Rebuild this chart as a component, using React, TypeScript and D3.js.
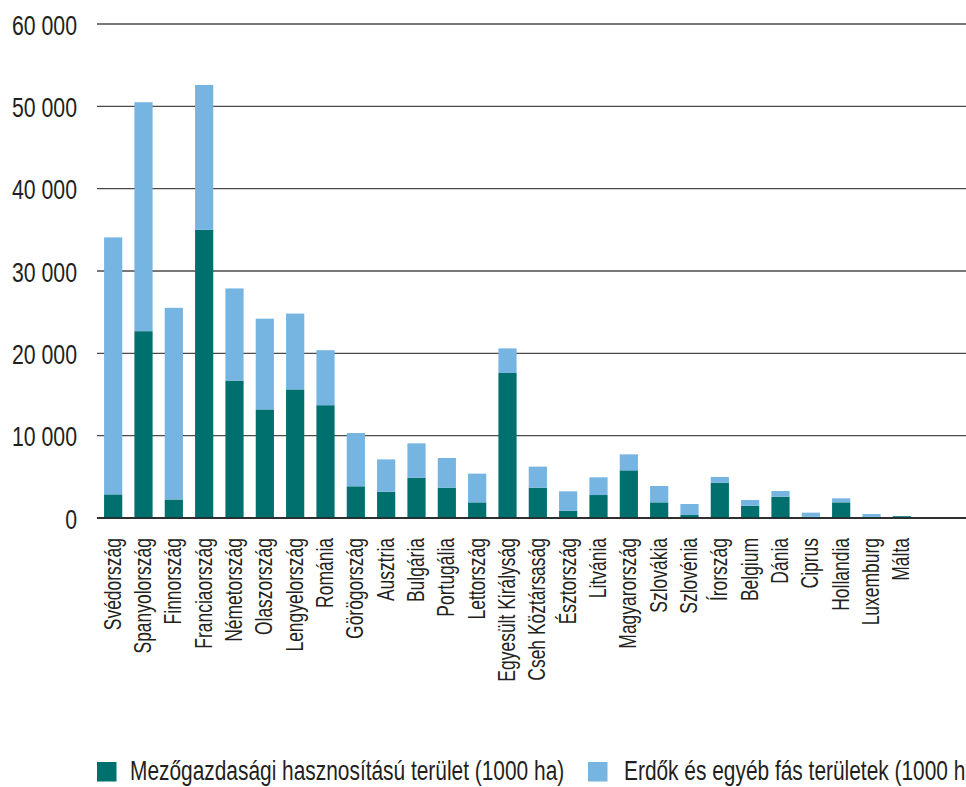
import React from "react";
import * as d3 from "d3";

const categories = [
  "Svédország", "Spanyolország", "Finnország", "Franciaország", "Németország",
  "Olaszország", "Lengyelország", "Románia", "Görögország", "Ausztria",
  "Bulgária", "Portugália", "Lettország", "Egyesült Királyság", "Cseh Köztársaság",
  "Észtország", "Litvánia", "Magyarország", "Szlovákia", "Szlovénia",
  "Írország", "Belgium", "Dánia", "Ciprus", "Hollandia", "Luxemburg", "Málta",
];

const agri = [
  2870, 22690, 2250, 35000, 16690, 13190, 15620, 13700, 3850, 3200,
  4900, 3690, 1900, 17610, 3690, 890, 2790, 5790, 1900, 360,
  4290, 1500, 2590, 160, 1900, 150, 220,
];

const forest = [
  31210, 27810, 23280, 17590, 11190, 11020, 9210, 6680, 6470, 3920,
  4170, 3600, 3490, 2990, 2550, 2350, 2150, 1940, 1990, 1340,
  690, 690, 690, 490, 490, 330, 10,
];

const yTicks = [0, 10000, 20000, 30000, 40000, 50000, 60000];
const yTickLabels = ["0", "10 000", "20 000", "30 000", "40 000", "50 000", "60 000"];

const seriesNames = [
  "Mezőgazdasági hasznosítású terület (1000 ha)",
  "Erdők és egyéb fás területek (1000 ha)",
];
const seriesColors = ["#00706f", "#76b5e2"];

const W = 966;
const H = 787;
const FONT = "'Liberation Sans', Arial, sans-serif";
const SX = 0.76;
const TEXT = "#231f20";

export default function App() {
  const x = d3
    .scaleBand<string>()
    .domain(categories)
    .range([98, 917])
    .paddingInner(0.4)
    .paddingOuter(0.2);
  const y = d3.scaleLinear().domain([0, 60000]).range([518, 24]);

  const rows = categories.map((c, i) => ({ c, agri: agri[i], forest: forest[i] }));
  const stack = d3.stack<any>().keys(["agri", "forest"])(rows);

  return (
    <svg
      width={W}
      height={H}
      style={{ position: "absolute", left: 0, top: 0, display: "block", background: "#fff" }}
    >
      {yTicks.map((t, i) => (
        <g key={t}>
          <line
            x1={97}
            x2={W}
            y1={y(t)}
            y2={y(t)}
            stroke={t === 0 ? "#222" : "#4a4a4a"}
            strokeWidth={t === 0 ? 1.6 : 1.3}
          />
          <text
            transform={`translate(77,${y(t) + 10.5}) scale(${SX},1)`}
            textAnchor="end"
            fontFamily={FONT}
            fontSize={28}
            fill={TEXT}
          >
            {yTickLabels[i]}
          </text>
        </g>
      ))}
      {stack.map((s, si) => (
        <g key={si} fill={seriesColors[si]}>
          {s.map((d, i) => (
            <rect
              key={i}
              x={x(categories[i])}
              width={x.bandwidth()}
              y={y(d[1])}
              height={Math.max(0, y(d[0]) - y(d[1]))}
            />
          ))}
        </g>
      ))}
      <line x1={97} x2={W} y1={y(0)} y2={y(0)} stroke="#222" strokeWidth={1.6} />
      {categories.map((c) => {
        const cx = (x(c) as number) + x.bandwidth() / 2;
        return (
          <text
            key={c}
            transform={`translate(${cx + 7.5},538) rotate(-90) scale(${SX},1)`}
            textAnchor="end"
            fontFamily={FONT}
            fontSize={23}
            fill={TEXT}
          >
            {c}
          </text>
        );
      })}
      <g>
        <rect x={97} y={762} width={19.5} height={19.5} fill={seriesColors[0]} />
        <text
          transform={`translate(130,780) scale(${SX},1)`}
          fontFamily={FONT}
          fontSize={27.5}
          fill={TEXT}
        >
          {seriesNames[0]}
        </text>
        <rect x={588} y={762} width={19.5} height={19.5} fill={seriesColors[1]} />
        <text
          transform={`translate(624,780) scale(${SX},1)`}
          fontFamily={FONT}
          fontSize={27.5}
          fill={TEXT}
        >
          {seriesNames[1]}
        </text>
      </g>
    </svg>
  );
}
